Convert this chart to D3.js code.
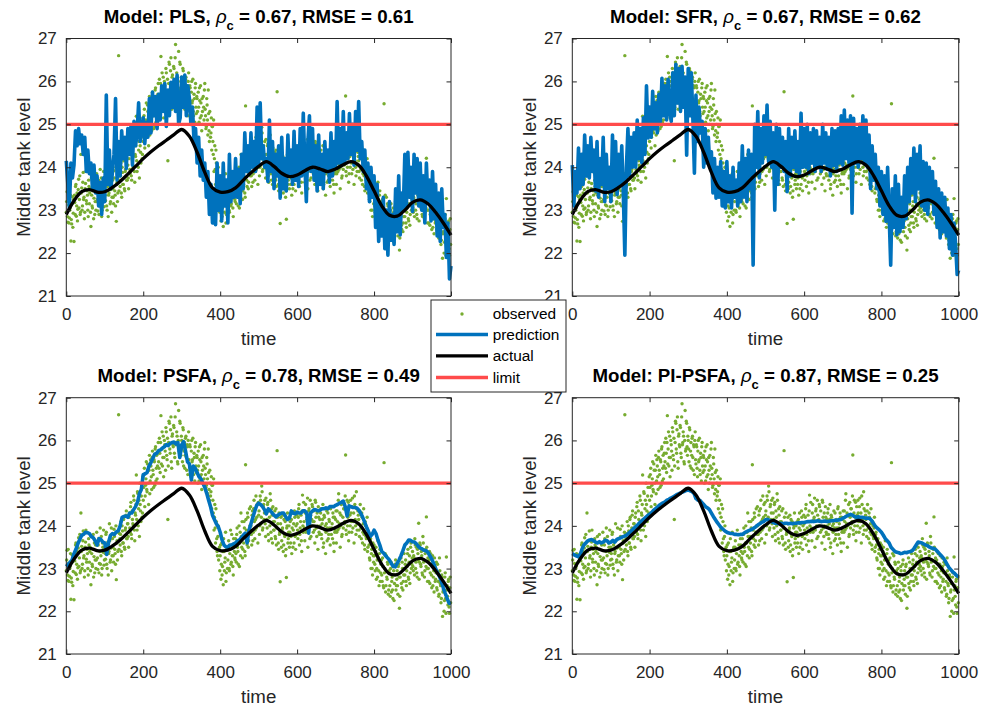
<!DOCTYPE html>
<html>
<head>
<meta charset="utf-8">
<script src="https://cdn.jsdelivr.net/npm/d3@7"></script>
<style>
  body { margin: 0; background: #fff; }
  svg { display: block; }
  text { font-family: "Liberation Sans", Arial, Helvetica, sans-serif; }
</style>
</head>
<body>
<svg id="fig" width="981" height="711"></svg>
<script>
// ---------- data ----------
const xTicks = [0, 200, 400, 600, 800, 1000];
const yTicks = [21, 22, 23, 24, 25, 26, 27];
const limitLevel = 25;

// smooth true level, sampled every 20 time steps
const actualStep = 20;
const actualV = [22.9, 23.22, 23.43, 23.48, 23.42, 23.43, 23.53, 23.67, 23.84, 24.02,
  24.2, 24.36, 24.5, 24.63, 24.76, 24.88, 24.72, 24.35, 23.88, 23.52,
  23.42, 23.43, 23.52, 23.7, 23.87, 24.02, 24.13, 24.02, 23.86, 23.78,
  23.82, 23.92, 24.0, 23.96, 23.9, 23.96, 24.06, 24.13, 24.05, 23.8,
  23.45, 23.1, 22.88, 22.86, 23.0, 23.18, 23.24, 23.15, 22.95, 22.7, 22.42];

// noisy observations at even time steps 0, 2, ..., 998
const observedEvenV = [
  22.95, 23.43, 22.72, 23.12, 22.82, 23.05, 22.28, 22.68, 23.31, 22.93,
  22.27, 23.18, 23.55, 22.86, 23.4, 23.02, 23.72, 23.25, 22.9, 24.3,
  23.52, 23.1, 23.88, 23.3, 22.95, 23.62, 23.22, 23.45, 23.0, 23.7,
  23.15, 23.5, 22.62, 23.35, 23.05, 23.8, 23.28, 22.9, 23.55, 23.2,
  23.42, 22.98, 23.7, 23.12, 23.95, 23.3, 22.85, 23.6, 23.38, 23.08,
  23.5, 23.22, 23.85, 23.0, 23.62, 23.35, 24.05, 23.15, 23.48, 22.95,
  23.7, 23.3, 23.92, 23.45, 23.1, 22.74, 23.65, 23.4, 26.6, 23.82,
  23.55, 24.1, 23.3, 23.88, 23.6, 24.2, 23.45, 23.95, 24.35, 23.7,
  24.05, 23.5, 24.3, 23.85, 24.55, 23.7, 24.15, 24.0, 24.6, 23.65,
  24.25, 25.19, 23.9, 24.76, 24.4, 23.75, 24.5, 24.1, 24.9, 24.3,
  24.6, 25.2, 24.45, 24.95, 25.5, 24.8, 25.3, 24.5, 25.65, 25.05,
  25.4, 24.85, 25.75, 25.2, 25.55, 24.95, 25.85, 25.35, 25.1, 25.7,
  25.5, 26.05, 25.25, 26.58, 25.8, 25.4, 26.1, 25.6, 25.9, 25.3,
  26.2, 25.55, 24.15, 25.95, 26.4, 25.7, 26.55, 25.35, 26.15, 25.85,
  26.3, 25.6, 26.86, 25.95, 26.1, 25.45, 26.7, 25.8, 26.4, 25.65,
  26.0, 25.5, 26.25, 25.75, 25.35, 26.05, 25.6, 25.9, 25.2, 26.2,
  25.45, 25.85, 25.15, 26.0, 25.55, 25.3, 25.7, 25.05, 25.95, 25.25,
  25.6, 25.0, 25.4, 25.85, 25.15, 25.5, 24.85, 25.3, 25.65, 25.1,
  25.95, 25.2, 24.95, 25.45, 24.75, 25.25, 24.6, 25.0, 24.8, 24.4,
  24.95, 24.3, 23.9, 24.5, 23.6, 24.1, 23.4, 23.75, 23.2, 23.5,
  23.3, 22.75, 23.6, 23.05, 22.62, 23.4, 23.15, 23.85, 22.9, 23.5,
  23.2, 23.65, 22.95, 23.45, 23.1, 23.8, 23.3, 22.85, 23.55, 23.25,
  23.7, 23.15, 23.95, 23.4, 23.6, 23.05, 23.85, 24.3, 23.5, 23.25,
  23.75, 24.1, 23.4, 25.43, 23.9, 23.55, 24.2, 23.65, 24.4, 23.8,
  24.0, 23.55, 24.35, 23.85, 24.6, 23.7, 24.15, 23.95, 24.5, 23.6,
  24.25, 23.8, 24.7, 24.05, 24.93, 23.9, 24.45, 24.15, 24.6, 23.75,
  24.3, 23.95, 24.55, 23.65, 24.2, 24.75, 23.85, 24.4, 23.6, 24.1,
  23.9, 24.35, 23.7, 23.55, 25.76, 24.05, 23.45, 23.8, 22.69, 24.2,
  23.65, 23.95, 23.4, 24.15, 23.75, 23.3, 22.79, 24.0, 23.6, 23.85,
  23.5, 24.1, 23.75, 23.35, 24.3, 23.9, 23.6, 24.2, 23.45, 23.8,
  24.05, 23.7, 24.4, 23.55, 23.95, 24.25, 23.4, 24.72, 23.85, 24.1,
  23.65, 24.5, 23.9, 24.2, 23.5, 24.35, 24.0, 24.6, 23.75, 24.15,
  24.45, 23.85, 24.1, 23.6, 24.55, 23.95, 24.3, 23.45, 24.2, 23.8,
  24.0, 24.4, 23.7, 24.15, 23.5, 24.25, 23.9, 23.35, 24.05, 23.65,
  24.3, 23.8, 24.1, 23.55, 24.45, 23.95, 23.7, 24.2, 23.4, 23.85,
  24.15, 23.6, 24.35, 23.9, 24.75, 24.05, 23.5, 24.25, 23.75, 24.55,
  23.95, 24.4, 24.1, 25.66, 23.8, 24.6, 24.2, 23.65, 24.45, 24.0,
  24.3, 23.85, 24.65, 24.1, 23.6, 24.5, 24.0, 24.8, 23.9, 24.35,
  24.15, 23.75, 24.5, 23.95, 24.3, 23.6, 24.05, 23.8, 23.45, 24.0,
  23.7, 24.2, 23.5, 23.85, 23.25, 23.65, 23.0, 23.45, 22.85, 23.3,
  23.55, 23.1, 23.4, 22.75, 23.2, 23.65, 22.95, 23.35, 22.7, 23.1,
  22.85, 23.25, 22.6, 25.48, 23.0, 22.45, 23.3, 22.75, 23.1, 22.5,
  22.9, 22.35, 23.15, 22.7, 22.5, 23.05, 22.25, 22.85, 23.2, 22.6,
  22.95, 22.4, 23.1, 22.07, 22.8, 23.25, 22.55, 23.0, 22.7, 23.35,
  22.85, 23.2, 22.6, 23.05, 23.45, 22.75, 23.3, 22.9, 23.6, 23.1,
  23.4, 22.95, 23.25, 23.7, 23.0, 23.5, 22.8, 23.35, 24.06, 23.15,
  23.55, 23.05, 23.3, 22.85, 23.6, 23.2, 22.95, 23.45, 24.21, 23.0,
  23.25, 22.7, 23.4, 22.9, 23.1, 22.55, 23.3, 22.8, 22.45, 23.05,
  22.75, 23.15, 22.5, 22.9, 22.35, 23.25, 22.65, 22.2, 22.85, 21.88,
  22.5, 22.0, 22.8, 22.3, 23.27, 22.6, 22.15, 22.75, 21.95, 22.8];

// noisy observations at odd time steps 1, 3, ..., 999
const observedOddV = [
  23.2, 22.85, 23.45, 22.7, 23.0, 23.35, 22.78, 23.15, 22.6, 23.25,
  23.35, 22.9, 23.6, 23.1, 22.75, 23.48, 23.05, 23.8, 22.95, 23.4,
  23.0, 23.65, 23.25, 22.8, 23.5, 23.9, 23.15, 23.35, 22.85, 23.55,
  23.4, 22.95, 23.75, 23.1, 23.45, 22.8, 23.6, 23.2, 23.0, 23.85,
  23.25, 23.55, 22.9, 23.4, 23.1, 23.75, 23.0, 23.5, 23.9, 23.2,
  23.35, 23.8, 23.1, 23.55, 22.85, 23.4, 23.65, 23.2, 23.95, 23.3,
  23.5, 23.15, 23.75, 23.35, 24.0, 23.6, 23.2, 23.85, 23.45, 23.7,
  23.8, 23.4, 24.0, 23.6, 24.15, 23.5, 23.9, 24.25, 23.7, 24.05,
  23.75, 24.2, 23.95, 24.45, 23.8, 24.35, 24.05, 24.7, 23.9, 24.3,
  24.5, 24.15, 24.8, 24.0, 24.6, 25.0, 24.35, 24.7, 24.2, 25.15,
  24.9, 25.35, 24.7, 25.1, 24.85, 25.45, 25.0, 25.3, 24.75, 25.55,
  25.15, 25.6, 25.3, 24.9, 25.5, 25.8, 25.05, 25.65, 25.4, 25.95,
  25.35, 25.7, 25.95, 25.45, 26.2, 25.6, 25.15, 26.0, 25.75, 26.3,
  25.65, 26.05, 25.4, 26.45, 25.8, 26.25, 25.5, 26.1, 25.9, 26.35,
  25.7, 26.55, 25.9, 26.2, 25.5, 26.0, 25.75, 26.45, 25.85, 26.1,
  25.8, 26.3, 25.4, 25.95, 25.65, 26.1, 25.3, 25.85, 26.0, 25.55,
  25.9, 25.35, 25.75, 25.5, 26.05, 25.2, 25.6, 25.85, 25.4, 25.65,
  25.3, 25.75, 25.05, 25.55, 25.9, 25.2, 25.6, 25.0, 25.4, 25.8,
  25.35, 24.9, 25.6, 25.1, 25.8, 24.85, 25.3, 24.7, 25.15, 24.95,
  24.6, 25.1, 24.2, 23.95, 24.4, 23.7, 23.3, 24.0, 23.45, 22.95,
  23.55, 23.1, 22.85, 23.4, 23.7, 22.95, 23.25, 22.7, 23.45, 23.0,
  23.5, 23.0, 23.35, 23.9, 23.15, 23.55, 23.05, 23.7, 23.4, 23.2,
  23.35, 23.8, 23.5, 23.1, 24.0, 23.6, 23.3, 23.75, 24.1, 23.45,
  23.6, 23.95, 23.3, 24.15, 23.7, 24.3, 23.5, 23.85, 24.0, 24.45,
  23.8, 24.25, 23.65, 24.4, 24.1, 23.9, 24.7, 24.2, 24.0, 24.55,
  24.35, 24.0, 24.6, 24.2, 24.8, 23.95, 24.5, 24.3, 24.05, 24.65,
  24.15, 24.5, 23.8, 24.35, 24.0, 24.6, 23.7, 24.25, 24.45, 23.9,
  24.1, 23.75, 24.4, 23.95, 24.2, 23.6, 24.3, 23.85, 24.05, 23.5,
  23.9, 24.25, 23.55, 23.8, 24.1, 23.45, 23.95, 24.3, 23.7, 24.0,
  23.85, 23.6, 24.15, 23.95, 23.5, 24.05, 24.35, 23.75, 24.0, 24.25,
  23.9, 24.2, 24.5, 23.8, 24.1, 23.65, 24.35, 24.0, 24.55, 23.95,
  24.3, 23.85, 24.15, 24.65, 23.9, 24.4, 23.7, 24.25, 24.0, 24.5,
  24.1, 24.35, 23.9, 24.6, 24.2, 23.75, 24.0, 24.45, 23.85, 24.15,
  24.3, 23.8, 24.05, 24.5, 23.6, 24.2, 24.0, 23.85, 24.35, 23.95,
  23.7, 24.15, 23.95, 24.4, 23.8, 24.05, 24.3, 23.6, 24.2, 23.9,
  24.35, 23.85, 24.1, 24.6, 23.95, 24.3, 24.0, 24.5, 23.8, 24.2,
  24.4, 24.05, 24.7, 23.9, 24.3, 24.0, 24.55, 23.85, 24.25, 24.6,
  24.1, 24.45, 23.95, 24.3, 24.7, 24.15, 23.8, 24.4, 24.05, 24.25,
  23.9, 24.35, 24.0, 23.7, 24.2, 23.85, 24.4, 23.55, 24.1, 23.75,
  23.95, 23.4, 23.8, 23.55, 23.2, 23.7, 23.35, 23.0, 23.6, 23.15,
  23.3, 22.95, 23.5, 23.0, 22.8, 23.25, 22.6, 23.45, 22.9, 23.2,
  22.7, 23.05, 22.55, 22.9, 23.35, 22.6, 22.8, 23.15, 22.4, 22.95,
  22.6, 23.0, 22.45, 22.8, 22.3, 22.95, 22.65, 23.1, 22.5, 22.75,
  22.6, 23.05, 22.8, 22.35, 22.9, 22.65, 23.15, 22.5, 22.85, 23.0,
  23.1, 22.7, 22.95, 23.35, 22.8, 23.15, 22.65, 23.5, 23.0, 23.25,
  23.05, 23.3, 22.85, 23.55, 23.15, 22.9, 23.45, 23.2, 22.75, 23.6,
  23.1, 23.4, 22.9, 23.75, 23.15, 22.8, 23.35, 23.05, 23.5, 22.7,
  23.0, 23.2, 22.65, 23.35, 22.85, 23.1, 22.6, 22.95, 23.25, 22.7,
  22.9, 22.55, 23.1, 22.7, 22.4, 22.95, 22.6, 22.3, 22.8, 22.45,
  22.65, 22.25, 22.9, 21.95, 22.5, 22.35, 22.7, 22.1, 22.55, 22.2];

// PLS prediction, every 4 time steps
const plsStep = 4;
const plsV = [
  24.15, 23.6, 23.05, 24.1, 23.75, 24.05, 24.85, 24.5, 24.9, 24.55,
  24.75, 24.3, 24.7, 23.9, 24.4, 23.85, 24.1, 23.5, 24.05, 23.4,
  23.8, 23.1, 23.65, 22.9, 23.75, 23.2, 25.68, 23.6, 24.4, 23.5,
  23.9, 24.3, 25.6, 23.7, 24.6, 23.8, 24.85, 24.2, 24.7, 23.97,
  24.9, 24.3, 24.95, 24.05, 25.07, 24.5, 24.8, 25.5, 24.6, 24.9,
  25.15, 24.55, 25.05, 24.7, 25.6, 24.8, 25.75, 25.2, 25.65, 24.9,
  25.7, 25.1, 25.9, 25.3, 25.95, 24.95, 25.8, 25.2, 25.98, 25.4,
  26.05, 25.3, 26.15, 25.0, 25.15, 26.1, 25.4, 26.15, 25.2, 25.9,
  25.6, 25.0, 25.4, 24.6, 24.9, 24.1, 24.7, 23.8, 24.4, 23.7,
  24.1, 23.3, 23.9, 22.9, 23.6, 22.7, 23.5, 22.66, 24.1, 23.0,
  23.8, 22.75, 24.1, 23.1, 23.7, 22.7, 24.3, 23.2, 23.9, 23.3,
  24.2, 23.3, 23.95, 23.15, 24.3, 23.5, 24.8, 23.9, 24.5, 23.85,
  24.8, 24.0, 24.6, 23.9, 25.4, 24.05, 25.5, 24.2, 24.5, 24.0,
  24.2, 23.67, 25.1, 23.9, 24.6, 23.5, 24.3, 23.8, 24.5, 23.28,
  24.7, 23.5, 24.2, 23.45, 24.75, 23.8, 24.4, 23.6, 24.84, 23.7,
  24.5, 23.55, 24.9, 23.8, 25.26, 24.1, 23.2, 24.6, 25.2, 23.9,
  24.9, 23.7, 24.5, 23.45, 24.75, 23.6, 24.3, 23.5, 24.6, 23.9,
  24.4, 23.65, 24.8, 23.8, 24.6, 24.0, 25.53, 24.1, 24.9, 24.05,
  25.3, 24.1, 24.8, 24.2, 25.25, 24.3, 25.0, 24.05, 25.3, 24.4,
  25.53, 24.2, 24.6, 23.9, 24.4, 23.5, 24.1, 23.2, 24.0, 23.3,
  23.8, 22.6, 23.6, 22.27, 23.1, 22.4, 23.3, 22.1, 23.0, 21.95,
  23.2, 22.3, 22.9, 22.2, 23.5, 22.5, 23.8, 22.42, 23.4, 23.0,
  24.3, 23.1, 24.35, 23.3, 24.0, 22.97, 24.3, 23.4, 24.2, 23.1,
  24.1, 23.0, 23.8, 22.7, 24.1, 23.2, 23.7, 22.75, 23.9, 22.8,
  23.6, 22.4, 23.4, 22.27, 23.5, 22.6, 22.9, 21.9, 22.7, 21.4,
  21.7];

// SFR prediction, every 4 time steps
const sfrStep = 4;
const sfrV = [
  24.05, 23.1, 23.9, 23.4, 24.45, 23.5, 24.3, 23.6, 24.75, 23.8,
  24.5, 23.75, 24.7, 23.9, 24.4, 23.45, 24.6, 23.3, 24.2, 23.6,
  24.7, 23.2, 24.3, 23.5, 24.0, 23.2, 24.75, 23.5, 24.6, 23.36,
  24.3, 23.6, 24.5, 23.4, 21.95, 24.0, 24.9, 23.8, 24.7, 24.0,
  24.8, 24.0, 25.1, 24.2, 24.9, 24.1, 25.15, 24.3, 25.9, 24.68,
  25.4, 24.7, 25.77, 24.9, 25.5, 24.8, 25.7, 25.07, 26.07, 25.2,
  25.9, 25.1, 26.05, 25.3, 25.07, 26.2, 25.2, 26.4, 25.5, 26.3,
  25.3, 26.35, 25.4, 26.1, 24.28, 26.3, 25.2, 26.2, 25.15, 23.86,
  25.68, 24.6, 25.4, 24.8, 25.07, 24.0, 24.9, 24.1, 24.7, 24.0,
  24.36, 23.4, 24.2, 23.28, 24.0, 23.3, 24.13, 23.1, 23.9, 23.05,
  24.13, 23.2, 23.8, 23.05, 24.0, 23.3, 23.7, 23.1, 24.1, 23.2,
  24.5, 23.3, 24.2, 23.2, 24.4, 23.5, 24.3, 21.72, 25.0, 24.0,
  25.3, 23.75, 24.9, 24.1, 25.2, 24.3, 25.45, 24.13, 25.07, 24.0,
  24.8, 23.0, 25.0, 23.6, 24.9, 24.0, 24.7, 23.9, 24.6, 23.43,
  24.9, 23.8, 24.7, 24.0, 24.85, 23.9, 24.6, 23.8, 25.26, 24.0,
  24.9, 24.0, 25.0, 23.85, 24.8, 24.1, 24.9, 23.9, 24.85, 24.0,
  24.7, 23.9, 25.0, 24.1, 24.8, 23.95, 24.7, 23.8, 24.9, 24.05,
  24.85, 23.9, 24.9, 24.1, 25.2, 24.05, 25.33, 24.2, 25.1, 24.1,
  25.2, 22.93, 25.14, 24.1, 24.9, 24.0, 25.0, 24.2, 25.2, 24.1,
  25.1, 24.0, 24.75, 23.5, 24.5, 23.7, 24.3, 23.5, 24.0, 23.1,
  23.9, 22.9, 23.8, 22.74, 24.0, 22.9, 21.72, 23.5, 22.6, 23.8,
  22.43, 23.6, 22.5, 23.3, 22.6, 23.8, 22.8, 24.0, 23.2, 24.2,
  23.4, 24.45, 23.2, 24.3, 23.5, 24.5, 23.1, 24.13, 23.0, 24.1,
  22.9, 24.0, 23.2, 23.9, 22.9, 23.67, 22.6, 23.5, 22.35, 23.4,
  22.5, 23.3, 22.4, 23.05, 22.1, 22.9, 21.95, 22.7, 22.2, 21.5,
  21.6];

// PSFA prediction, every 5 time steps
const psfaStep = 5;
const psfaV = [
  23.05, 23.1, 23.15, 23.2, 23.35, 23.45, 23.58, 23.68, 23.78, 23.8, 23.85, 23.84, 23.82, 23.75, 23.72, 23.65, 23.55, 23.7, 23.68, 23.62,
  23.6, 23.33, 23.62, 23.78, 23.82, 23.8, 23.86, 23.88, 24.0, 24.2, 24.22, 24.23, 24.2, 24.3, 24.3, 24.38, 24.45, 24.55, 24.75, 24.85,
  25.2, 25.22, 25.25, 25.4, 25.48, 25.58, 25.68, 25.7, 25.76, 25.78, 25.82, 25.85, 25.9, 25.88, 25.93, 25.95, 25.96, 25.92, 25.95, 25.6,
  25.9, 25.97, 25.75, 25.5, 25.45, 25.07, 25.4, 25.35, 25.25, 25.15, 25.1, 25.0, 24.9, 24.76, 24.6, 24.45, 24.25, 24.15, 24.05, 23.98,
  23.85, 23.67, 23.55, 23.51, 23.5, 23.55, 23.55, 23.58, 23.6, 23.65, 23.67, 23.72, 23.78, 23.83, 23.6, 23.9, 24.05, 24.2, 24.35, 24.48,
  24.53, 24.5, 24.45, 24.38, 24.28, 24.4, 24.36, 24.3, 24.25, 24.21, 24.25, 24.28, 24.3, 24.3, 24.22, 24.15, 24.18, 24.35, 24.3, 24.28,
  24.32, 24.3, 24.3, 24.35, 24.35, 24.3, 23.83, 24.3, 24.35, 24.38, 24.37, 24.35, 24.37, 24.4, 24.4, 24.42, 24.4, 24.45, 24.45, 24.45,
  24.48, 24.5, 24.53, 24.55, 24.58, 24.45, 24.23, 24.47, 24.45, 24.43, 24.43, 24.42, 24.37, 24.3, 24.21, 24.1, 23.98, 23.88, 23.75, 23.8,
  23.9, 23.82, 23.67, 23.55, 23.4, 23.36, 23.3, 23.25, 23.2, 23.12, 23.05, 23.04, 23.12, 23.2, 23.3, 23.42, 23.55, 23.6, 23.67, 23.66,
  23.63, 23.62, 23.58, 23.52, 23.48, 23.46, 23.43, 23.42, 23.38, 23.3, 23.22, 23.12, 23.0, 22.9, 22.82, 22.7, 22.55, 22.42, 22.3, 22.19,
  22.18];

// PI-PSFA prediction, every 5 time steps
const pipsfaStep = 5;
const pipsfaV = [
  23.35, 23.32, 23.3, 23.28, 23.32, 23.45, 23.55, 23.6, 23.65, 23.67, 23.68, 23.65, 23.62, 23.6, 23.63, 23.6, 23.62, 23.66, 23.65, 23.6,
  23.62, 23.66, 23.62, 23.68, 23.7, 23.72, 23.74, 23.76, 23.78, 23.82, 23.86, 23.9, 23.95, 23.99, 24.03, 24.08, 24.12, 24.16, 24.2, 24.24,
  24.27, 24.31, 24.36, 24.4, 24.44, 24.48, 24.51, 24.54, 24.56, 24.6, 24.62, 24.65, 24.67, 24.7, 24.73, 24.75, 24.77, 24.79, 24.81, 24.83,
  24.84, 24.82, 24.8, 24.76, 24.64, 24.6, 24.6, 24.55, 24.5, 24.45, 24.42, 24.38, 24.3, 24.22, 24.15, 24.08, 24.02, 23.96, 23.92, 23.88,
  23.85, 23.83, 23.82, 23.82, 23.8, 23.8, 23.79, 23.8, 23.8, 23.83, 23.86, 23.88, 23.9, 23.92, 23.95, 23.98, 24.02, 24.05, 24.08, 24.1,
  24.14, 24.15, 24.13, 24.1, 24.08, 24.06, 24.06, 24.05, 24.06, 24.05, 24.06, 24.06, 24.05, 24.06, 24.05, 24.06, 24.06, 24.07, 24.07, 24.08,
  24.08, 24.09, 24.1, 24.1, 24.11, 24.1, 24.11, 24.12, 24.11, 24.1, 24.11, 24.11, 24.1, 24.11, 24.12, 24.12, 24.13, 24.13, 24.14, 24.15,
  24.18, 24.2, 24.23, 24.25, 24.27, 24.25, 24.22, 24.2, 24.21, 24.2, 24.2, 24.19, 24.18, 24.18, 24.17, 24.12, 24.05, 23.98, 23.94, 23.9,
  23.85, 23.78, 23.7, 23.65, 23.6, 23.5, 23.45, 23.4, 23.38, 23.37, 23.35, 23.36, 23.38, 23.37, 23.39, 23.4, 23.42, 23.48, 23.55, 23.62,
  23.61, 23.6, 23.57, 23.55, 23.53, 23.5, 23.48, 23.47, 23.45, 23.4, 23.35, 23.3, 23.25, 23.18, 23.1, 23.02, 22.97, 22.92, 22.88, 22.83,
  22.8];

const modelNames = ["PLS", "SFR", "PSFA", "PI-PSFA"];
const rhoValues = ["0.67", "0.67", "0.78", "0.87"];
const rmseValues = ["0.61", "0.62", "0.49", "0.25"];
const legendLabels = ["observed", "prediction", "actual", "limit"];

// ---------- styling / layout ----------
const C = { obs: "#77AC30", pred: "#0072BD", actual: "#000000", limit: "#FF4B4B", axis: "#262626" };
const FONT = '"Liberation Sans", Arial, Helvetica, sans-serif';

const boxes = [
  { x0: 66.3, x1: 451, y0: 38.5, y1: 296 },
  { x0: 572.3, x1: 958.7, y0: 38.5, y1: 296 },
  { x0: 66.3, x1: 451, y0: 397.7, y1: 654 },
  { x0: 572.3, x1: 958.7, y0: 397.7, y1: 654 }
];

const series = [
  { v: plsV, step: plsStep },
  { v: sfrV, step: sfrStep },
  { v: psfaV, step: psfaStep },
  { v: pipsfaV, step: pipsfaStep }
];

const toPts = (vals, step, start = 0) => vals.map((v, i) => [start + i * step, v]);
const observedPts = toPts(observedEvenV, 2, 0).concat(toPts(observedOddV, 2, 1));
const actualPts = toPts(actualV, actualStep);

const svg = d3.select("#fig");

function styleAxis(g, size) {
  g.attr("font-family", FONT).attr("font-size", size);
  g.selectAll("line").attr("stroke", C.axis);
  g.selectAll("text").attr("fill", C.axis);
  g.select(".domain").remove();
}

boxes.forEach((b, k) => {
  const x = d3.scaleLinear().domain([0, 1000]).range([b.x0, b.x1]);
  const y = d3.scaleLinear().domain([21, 27]).range([b.y1, b.y0]);
  const g = svg.append("g");

  // observations
  g.append("g").selectAll("circle").data(observedPts).join("circle")
    .attr("cx", d => x(d[0])).attr("cy", d => y(d[1]))
    .attr("r", 1.7).attr("fill", C.obs);

  // model prediction
  const line = d3.line().x(d => x(d[0])).y(d => y(d[1]));
  g.append("path").datum(toPts(series[k].v, series[k].step))
    .attr("d", line).attr("fill", "none")
    .attr("stroke", C.pred).attr("stroke-width", 3.6).attr("stroke-linejoin", "round");

  // actual level
  const smooth = d3.line().x(d => x(d[0])).y(d => y(d[1])).curve(d3.curveCatmullRom.alpha(0.5));
  g.append("path").datum(actualPts).attr("d", smooth).attr("fill", "none")
    .attr("stroke", C.actual).attr("stroke-width", 3.3);

  // limit
  g.append("line").attr("x1", x(0)).attr("x2", x(1000))
    .attr("y1", y(limitLevel)).attr("y2", y(limitLevel))
    .attr("stroke", C.limit).attr("stroke-width", 3.3);

  // axes with inward ticks on all four sides
  const ax = g.append("g").attr("transform", `translate(0,${b.y1})`)
    .call(d3.axisBottom(x).tickValues(xTicks).tickSizeInner(-4.5).tickSizeOuter(0).tickPadding(12).tickFormat(d3.format("d")));
  styleAxis(ax, 17);
  const axT = g.append("g").attr("transform", `translate(0,${b.y0})`)
    .call(d3.axisTop(x).tickValues(xTicks).tickSizeInner(-4.5).tickSizeOuter(0).tickFormat(""));
  styleAxis(axT, 17);
  const ay = g.append("g").attr("transform", `translate(${b.x0},0)`)
    .call(d3.axisLeft(y).tickValues(yTicks).tickSizeInner(-4.5).tickSizeOuter(0).tickPadding(9.5).tickFormat(d3.format("d")));
  styleAxis(ay, 17);
  const ayR = g.append("g").attr("transform", `translate(${b.x1},0)`)
    .call(d3.axisRight(y).tickValues(yTicks).tickSizeInner(-4.5).tickSizeOuter(0).tickFormat(""));
  styleAxis(ayR, 17);

  g.append("rect").attr("x", b.x0).attr("y", b.y0)
    .attr("width", b.x1 - b.x0).attr("height", b.y1 - b.y0)
    .attr("fill", "none").attr("stroke", C.axis).attr("stroke-width", 1);

  // labels
  g.append("text").attr("x", (b.x0 + b.x1) / 2).attr("y", b.y1 + 49)
    .attr("text-anchor", "middle").attr("font-size", 18.7).attr("fill", C.axis).text("time");
  g.append("text").attr("transform", `translate(${b.x0 - 36.3},${(b.y0 + b.y1) / 2}) rotate(-90)`)
    .attr("text-anchor", "middle").attr("font-size", 18.7).attr("fill", C.axis).text("Middle tank level");

  const t = g.append("text").attr("x", (b.x0 + b.x1) / 2).attr("y", b.y0 - 16)
    .attr("text-anchor", "middle").attr("font-size", 18.7).attr("font-weight", "bold").attr("fill", "#000");
  t.append("tspan").text(`Model: ${modelNames[k]}, `);
  t.append("tspan").attr("font-style", "italic").attr("font-weight", "normal").text("ρ");
  t.append("tspan").attr("font-size", 13).attr("dy", 7).text("c");
  t.append("tspan").attr("dy", -7).text(` = ${rhoValues[k]}, RMSE = ${rmseValues[k]}`);
});

// legend
const lg = svg.append("g");
lg.append("rect").attr("x", 431).attr("y", 300).attr("width", 135).attr("height", 92)
  .attr("fill", "#fff").attr("stroke", C.axis).attr("stroke-width", 1);
const rowY = [314, 334.5, 355.8, 377.5];
legendLabels.forEach((lab, i) => {
  if (i === 0) {
    lg.append("circle").attr("cx", 462).attr("cy", rowY[i]).attr("r", 1.7).attr("fill", C.obs);
  } else {
    const col = [null, C.pred, C.actual, C.limit][i];
    lg.append("line").attr("x1", 436).attr("x2", 488).attr("y1", rowY[i]).attr("y2", rowY[i])
      .attr("stroke", col).attr("stroke-width", 3.3);
  }
  lg.append("text").attr("x", 492.7).attr("y", rowY[i]).attr("dy", "0.35em")
    .attr("font-size", 15.4).attr("fill", "#000").text(lab);
});
</script>
</body>
</html>
